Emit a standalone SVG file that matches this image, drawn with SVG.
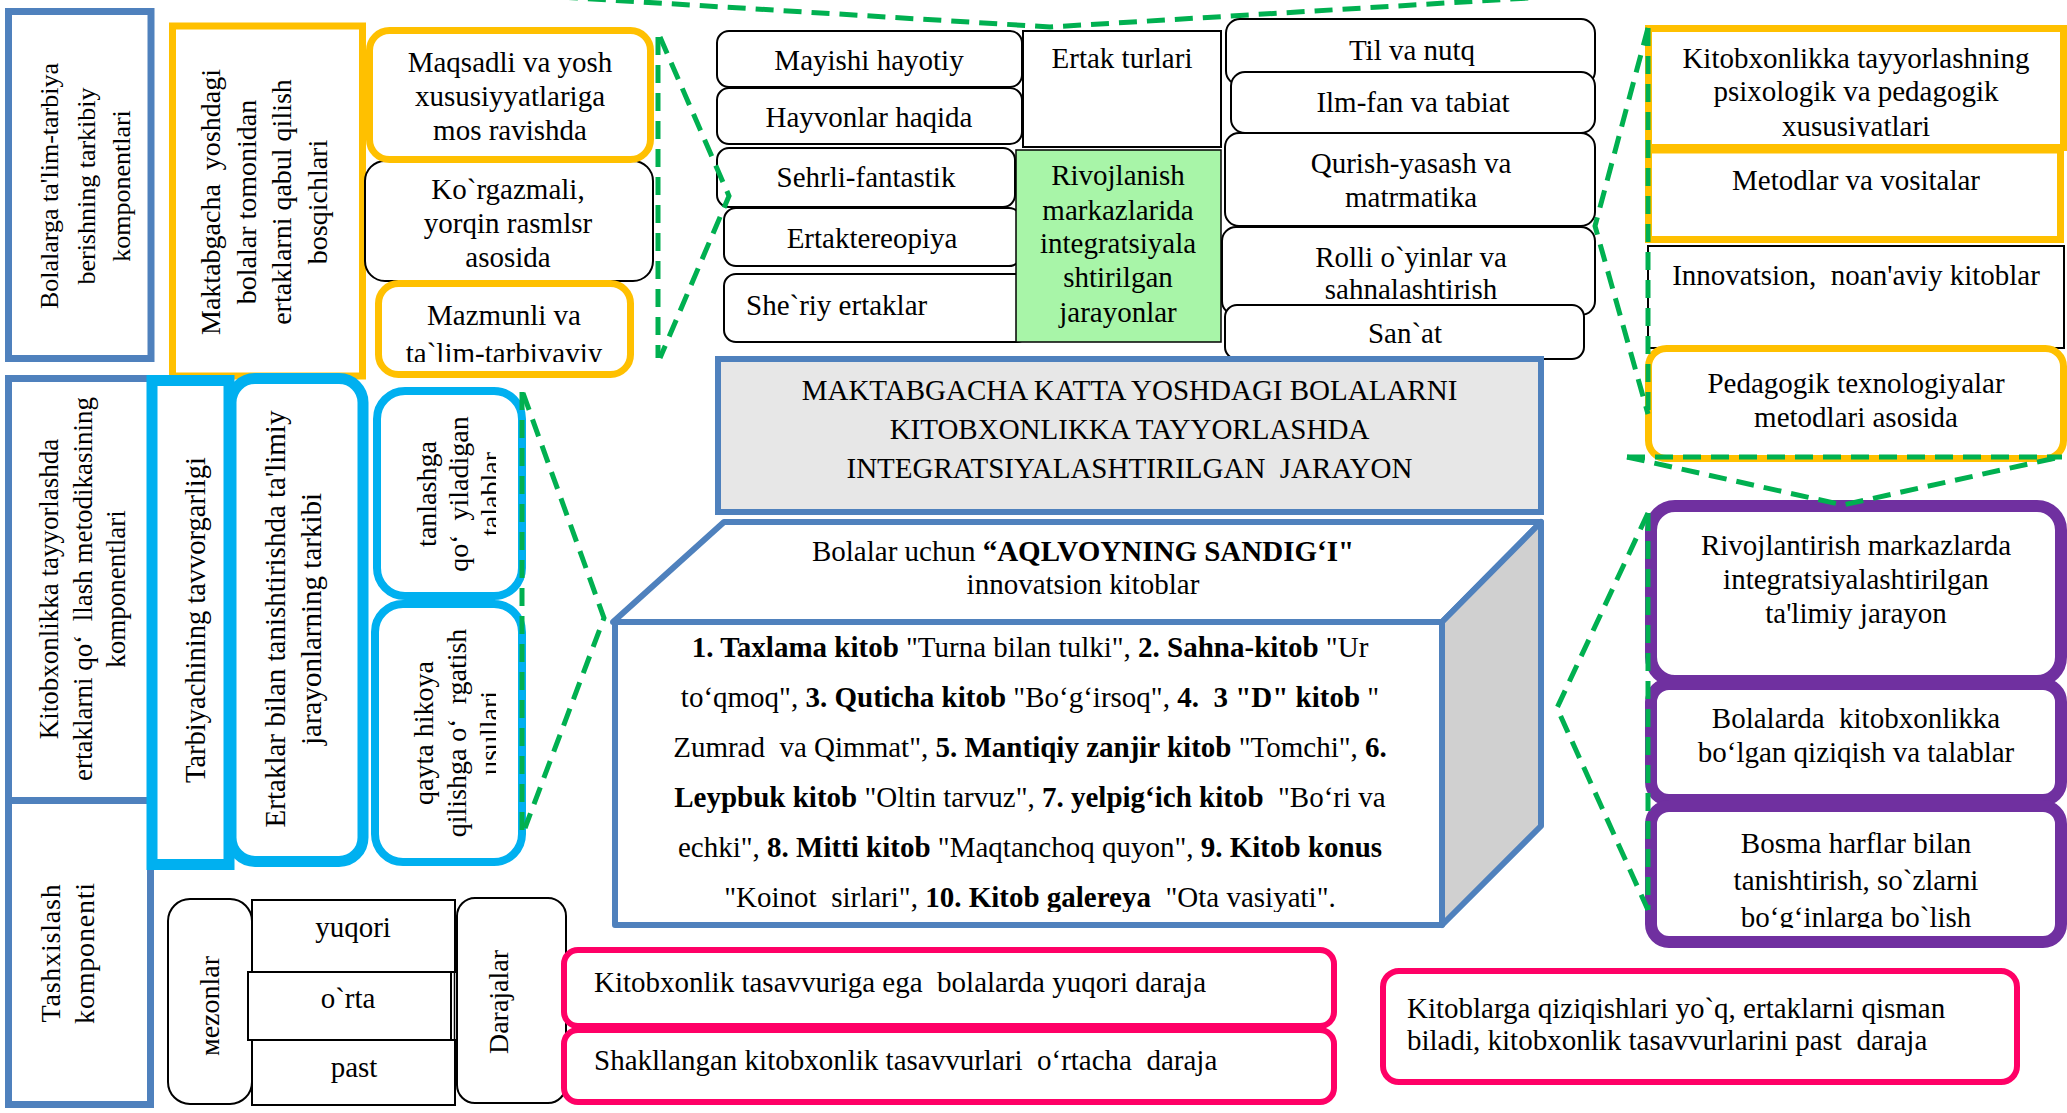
<svg xmlns="http://www.w3.org/2000/svg" width="2067" height="1113" viewBox="0 0 2067 1113">
<defs>
<style>
text{font-family:"Liberation Serif","Times New Roman",serif;font-size:29px;fill:#000}
.c{text-anchor:middle}
.bd{font-weight:bold}
.k{fill:#fff;stroke:#000;stroke-width:2}
.y{fill:#fff;stroke:#FFC000;stroke-width:7}
.b{fill:#fff;stroke:#4F81BD;stroke-width:7}
.cy{fill:#fff;stroke:#00B0F0}
.p{fill:#fff;stroke:#7030A0;stroke-width:12}
.pk{fill:#fff;stroke:#FF0066;stroke-width:6}
.cb{stroke:#4F81BD;stroke-width:6;stroke-linejoin:round}
.d{fill:none;stroke:#00B050;stroke-width:5;stroke-dasharray:18 10}
</style>
<clipPath id="clK"><rect x="360" y="150" width="300" height="117"/></clipPath>
<clipPath id="clM"><rect x="370" y="280" width="270" height="82"/></clipPath>
<clipPath id="clX"><rect x="1640" y="20" width="427" height="117"/></clipPath>
<clipPath id="clB"><rect x="1640" y="800" width="427" height="128"/></clipPath>
<clipPath id="clT"><rect x="370" y="380" width="126" height="490"/></clipPath>
<clipPath id="clL"><rect x="600" y="860" width="850" height="52"/></clipPath>
</defs>

<g id="left-components">
<g id="node-bolalarga">
<rect class="b" x="8.5" y="11.5" width="142.5" height="347"/>
<text transform="rotate(-90)" class="c" style="font-size:26px"><tspan x="-186" y="58">Bolalarga ta'lim-tarbiya</tspan><tspan x="-186" y="95">berishning tarkibiy</tspan><tspan x="-186" y="130">komponentlari</tspan></text>
</g>
<g id="node-kitobxonlikka-metodika">
<rect class="b" x="8.5" y="378.5" width="142" height="422"/>
<text transform="rotate(-90)" class="c" style="font-size:27px"><tspan x="-589" y="58">Kitobxonlikka tayyorlashda</tspan><tspan x="-589" y="92">ertaklarni qo‘&#160; llash metodikasining</tspan><tspan x="-589" y="125">komponentlari</tspan></text>
</g>
<g id="node-tashxislash">
<rect class="b" x="8.5" y="800.5" width="142" height="304"/>
<text transform="rotate(-90)" class="c" style="font-size:28px;letter-spacing:0.8px"><tspan x="-953" y="60">Tashxislash</tspan><tspan x="-953" y="94">komponenti</tspan></text>
</g>
</g>

<g id="node-bosqichlar">
<rect class="y" x="172.5" y="26" width="190" height="350"/>
<text transform="rotate(-90)" class="c" style="font-size:28px"><tspan x="-202" y="220">Maktabgacha&#160; yoshdagi</tspan><tspan x="-202" y="256">bolalar tomonidan</tspan><tspan x="-202" y="291">ertaklarni qabul qilish</tspan><tspan x="-202" y="327">bosqichlari</tspan></text>
</g>

<g id="node-korgazmali">
<rect class="k" x="365" y="161" width="288" height="120" rx="20"/>
<text class="c" clip-path="url(#clK)"><tspan x="508" y="199">Ko`rgazmali,</tspan><tspan x="508" y="233">yorqin rasmlsr</tspan><tspan x="508" y="267">asosida</tspan></text>
</g>
<g id="node-maqsadli">
<rect class="y" x="369.5" y="30.5" width="281" height="129" rx="20"/>
<text class="c"><tspan x="510" y="72">Maqsadli va yosh</tspan><tspan x="510" y="106">xususiyyatlariga</tspan><tspan x="510" y="140">mos ravishda</tspan></text>
</g>
<g id="node-mazmunli">
<rect class="y" x="378.5" y="283.5" width="252" height="91" rx="20"/>
<text class="c" clip-path="url(#clM)"><tspan x="504" y="325">Mazmunli va</tspan><tspan x="504" y="363">ta`lim-tarbiyaviy</tspan></text>
</g>

<g id="node-tarbiyachi">
<rect class="cy" style="stroke-width:11" x="152" y="380.5" width="77" height="484"/>
<text transform="rotate(-90)" class="c" style="font-size:28.5px"><tspan x="-620" y="205">Tarbiyachining tavvorgarligi</tspan></text>
</g>
<g id="node-ertaklar-tarkibi">
<rect class="cy" style="stroke-width:11" x="231" y="378.5" width="132" height="483" rx="24"/>
<text transform="rotate(-90)" class="c"><tspan x="-619" y="285">Ertaklar bilan tanishtirishda ta'limiy</tspan><tspan x="-619" y="321">jarayonlarning tarkibi</tspan></text>
</g>
<g id="node-tanlash">
<rect class="cy" style="stroke-width:8" x="377" y="391" width="145" height="205" rx="28"/>
<g clip-path="url(#clT)"><text transform="rotate(-90)" class="c" style="font-size:28px"><tspan x="-494" y="436">tanlashga</tspan><tspan x="-494" y="468">qo‘&#160; yiladigan</tspan><tspan x="-494" y="500">talablar</tspan></text></g>
</g>
<g id="node-qayta">
<rect class="cy" style="stroke-width:8" x="375" y="604" width="147" height="258" rx="28"/>
<g clip-path="url(#clT)"><text transform="rotate(-90)" class="c" style="font-size:28px"><tspan x="-733" y="433">qayta hikoya</tspan><tspan x="-733" y="466">qilishga o‘&#160; rgatish</tspan><tspan x="-733" y="499">usullari</tspan></text></g>
</g>

<g id="ertak-turlari">
<g id="node-mayishi"><rect class="k" x="717" y="31" width="305" height="56" rx="12"/><text class="c" x="869" y="70">Mayishi hayotiy</text></g>
<g id="node-hayvonlar"><rect class="k" x="717" y="88" width="305" height="56" rx="12"/><text class="c" x="869" y="127">Hayvonlar haqida</text></g>
<g id="node-ertak-turlari"><rect class="k" x="1023" y="31" width="198" height="116"/><text class="c" x="1122" y="68">Ertak turlari</text></g>
<g id="node-sehrli"><rect class="k" x="717" y="148" width="298" height="59" rx="12"/><text class="c" x="866" y="187">Sehrli-fantastik</text></g>
<g id="node-ertaktereopiya"><rect class="k" x="724" y="208" width="297" height="58" rx="12"/><text class="c" x="872" y="248">Ertaktereopiya</text></g>
<g id="node-sheriy"><rect class="k" x="724" y="274" width="305" height="68" rx="12"/><text x="746" y="315">She`riy ertaklar</text></g>
<g id="node-rivojlanish"><rect x="1016" y="150" width="205" height="192" fill="#A8F5A8" stroke="#000" stroke-width="1.5"/>
<text class="c"><tspan x="1118" y="185">Rivojlanish</tspan><tspan x="1118" y="220">markazlarida</tspan><tspan x="1118" y="253">integratsiyala</tspan><tspan x="1118" y="287">shtirilgan</tspan><tspan x="1118" y="322">jarayonlar</tspan></text></g>
</g>

<g id="markazlar">
<g id="node-til"><rect class="k" x="1226" y="19" width="369" height="66" rx="14"/><text class="c" x="1412" y="60">Til va nutq</text></g>
<g id="node-ilm"><rect class="k" x="1231" y="72" width="364" height="61" rx="14"/><text class="c" x="1413" y="112">Ilm-fan va tabiat</text></g>
<g id="node-qurish"><rect class="k" x="1225" y="133" width="370" height="93" rx="14"/><text class="c"><tspan x="1411" y="173">Qurish-yasash va</tspan><tspan x="1411" y="207">matrmatika</tspan></text></g>
<g id="node-rolli"><rect class="k" x="1222" y="227" width="373" height="88" rx="14"/><text class="c"><tspan x="1411" y="267">Rolli o`yinlar va</tspan><tspan x="1411" y="299">sahnalashtirish</tspan></text></g>
<g id="node-sanat"><rect class="k" x="1225" y="305" width="359" height="54" rx="12"/><text class="c" x="1405" y="343">San`at</text></g>
</g>

<g id="node-title">
<rect x="718" y="359" width="823" height="153" fill="#E7E7E7" stroke="#4F81BD" stroke-width="6"/>
<text class="c"><tspan x="1129.5" y="400">MAKTABGACHA KATTA YOSHDAGI BOLALARNI</tspan><tspan x="1129.5" y="439">KITOBXONLIKKA TAYYORLASHDA</tspan><tspan x="1129.5" y="478">INTEGRATSIYALASHTIRILGAN&#160; JARAYON</tspan></text>
</g>

<g id="node-cube">
<polygon class="cb" fill="#fff" points="613,622 724,522 1541,522 1442,622"/>
<polygon class="cb" fill="#D0D0D0" points="1442,622 1541,522 1541,826 1442,925"/>
<rect class="cb" fill="#fff" x="615" y="622" width="827" height="303"/>
<text class="c"><tspan x="1083" y="561">Bolalar uchun <tspan class="bd">“AQLVOYNING SANDIG‘I"</tspan></tspan><tspan x="1083" y="594">innovatsion kitoblar</tspan></text>
<g style="font-size:27.5px">
<text class="c" x="1030" y="657"><tspan class="bd">1. Taxlama kitob</tspan> "Turna bilan tulki", <tspan class="bd">2. Sahna-kitob</tspan> "Ur</text>
<text class="c" x="1030" y="707">to‘qmoq", <tspan class="bd">3. Quticha kitob</tspan> "Bo‘g‘irsoq", <tspan class="bd">4.&#160; 3 "D" kitob</tspan> "</text>
<text class="c" x="1030" y="757">Zumrad&#160; va Qimmat", <tspan class="bd">5. Mantiqiy zanjir kitob</tspan> "Tomchi", <tspan class="bd">6.</tspan></text>
<text class="c" x="1030" y="807"><tspan class="bd">Leypbuk kitob</tspan> "Oltin tarvuz", <tspan class="bd">7. yelpig‘ich kitob</tspan>&#160; "Bo‘ri va</text>
<text class="c" x="1030" y="857">echki", <tspan class="bd">8. Mitti kitob</tspan> "Maqtanchoq quyon", <tspan class="bd">9. Kitob konus</tspan></text>
<text class="c" x="1030" y="907" clip-path="url(#clL)">"Koinot&#160; sirlari", <tspan class="bd">10. Kitob galereya</tspan>&#160; "Ota vasiyati".</text>
</g>
</g>

<g id="right-top">
<g id="node-psixologik"><rect class="y" x="1648.5" y="28.5" width="415" height="119"/><text class="c" clip-path="url(#clX)"><tspan x="1856" y="68">Kitobxonlikka tayyorlashning</tspan><tspan x="1856" y="101">psixologik va pedagogik</tspan><tspan x="1856" y="136">xususiyatlari</tspan></text></g>
<g id="node-metodlar"><rect class="y" x="1648.5" y="150" width="412" height="89.5"/><text class="c" x="1856" y="190">Metodlar va vositalar</text></g>
<g id="node-innovatsion"><rect class="k" x="1648" y="246" width="416" height="102"/><text class="c" x="1856" y="285">Innovatsion,&#160; noan'aviy kitoblar</text></g>
<g id="node-pedagogik"><rect class="y" x="1648.5" y="348.5" width="415" height="110" rx="18"/><text class="c"><tspan x="1856" y="393">Pedagogik texnologiyalar</tspan><tspan x="1856" y="427">metodlari asosida</tspan></text></g>
</g>

<g id="right-purple">
<g id="node-rivojlantirish"><rect class="p" x="1651" y="506" width="410" height="175" rx="24"/><text class="c"><tspan x="1856" y="555">Rivojlantirish markazlarda</tspan><tspan x="1856" y="589">integratsiyalashtirilgan</tspan><tspan x="1856" y="623">ta'limiy jarayon</tspan></text></g>
<g id="node-qiziqish"><rect class="p" x="1651" y="684" width="410" height="116" rx="18"/><text class="c"><tspan x="1856" y="728">Bolalarda&#160; kitobxonlikka</tspan><tspan x="1856" y="762">bo‘lgan qiziqish va talablar</tspan></text></g>
<g id="node-bosma"><rect class="p" x="1651" y="806" width="410" height="136" rx="18"/><text class="c" clip-path="url(#clB)"><tspan x="1856" y="853">Bosma harflar bilan</tspan><tspan x="1856" y="890">tanishtirish, so`zlarni</tspan><tspan x="1856" y="927">bo‘g‘inlarga bo`lish</tspan></text></g>
</g>

<g id="diagnostics">
<g id="node-mezonlar"><rect class="k" x="168" y="899" width="84" height="205" rx="22"/><text transform="rotate(-90)" class="c" style="font-size:28px" x="-1006" y="219">мezonlar</text></g>
<g id="node-yuqori"><rect class="k" x="252" y="900" width="203" height="72"/><text class="c" x="353" y="937">yuqori</text></g>
<g id="node-orta"><rect class="k" x="248" y="972" width="203" height="68"/><line x1="454.5" y1="972" x2="454.5" y2="1040" stroke="#000" stroke-width="1.5"/><text class="c" x="348" y="1008">o`rta</text></g>
<g id="node-past"><rect class="k" x="252" y="1040" width="203" height="65"/><text class="c" x="354" y="1077">past</text></g>
<g id="node-darajalar"><rect class="k" x="457" y="898" width="109" height="205" rx="18"/><text transform="rotate(-90)" class="c" style="font-size:28px" x="-1002" y="508">Darajalar</text></g>
</g>

<g id="levels">
<g id="node-yuqori-daraja"><rect class="pk" x="564" y="950" width="770" height="76" rx="14"/><text x="594" y="992">Kitobxonlik tasavvuriga ega&#160; bolalarda yuqori daraja</text></g>
<g id="node-ortacha-daraja"><rect class="pk" x="564" y="1030" width="770" height="72" rx="14"/><text x="594" y="1070">Shakllangan kitobxonlik tasavvurlari&#160; o‘rtacha&#160; daraja</text></g>
<g id="node-past-daraja"><rect class="pk" x="1383" y="971" width="634" height="111" rx="16"/><text><tspan x="1407" y="1018">Kitoblarga qiziqishlari yo`q, ertaklarni qisman</tspan><tspan x="1407" y="1050">biladi, kitobxonlik tasavvurlarini past&#160; daraja</tspan></text></g>
</g>

<g id="connectors">
<polyline class="d" points="560,-3 1050,27 1545,-3"/>
<line class="d" x1="658" y1="37" x2="658" y2="358"/>
<polyline class="d" points="660,37 729,196 660,358"/>
<line class="d" x1="522" y1="392" x2="522" y2="832"/>
<polyline class="d" points="523,393 604,618 525,828"/>
<line class="d" x1="1648" y1="28" x2="1648" y2="414"/>
<polyline class="d" points="1648,28 1595,226 1648,414"/>
<line class="d" x1="1627" y1="457" x2="2062" y2="457"/>
<polyline class="d" points="1627,457 1843,505 2060,457"/>
<line class="d" x1="1648" y1="513" x2="1648" y2="910"/>
<polyline class="d" points="1648,513 1557,708 1648,910"/>
</g>
</svg>
